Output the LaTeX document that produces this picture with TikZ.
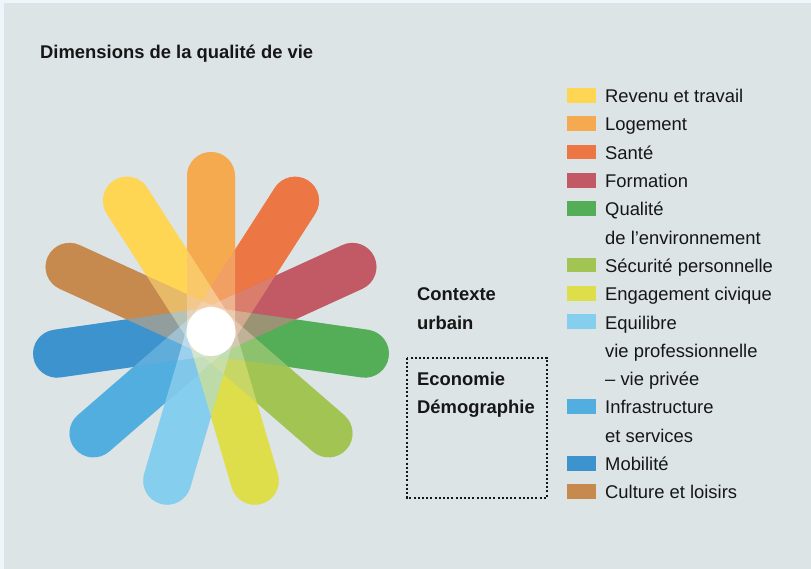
\documentclass[tikz,border=0pt]{standalone}
\usepackage{fontspec}
\setmainfont{Liberation Sans}
\usepackage{tikz}
\usetikzlibrary{positioning}

\definecolor{revenu}{HTML}{FED654}
\definecolor{logement}{HTML}{F5AA50}
\definecolor{sante}{HTML}{EC7644}
\definecolor{formation}{HTML}{C15A65}
\definecolor{qualite}{HTML}{53AE57}
\definecolor{securite}{HTML}{A2C453}
\definecolor{engagement}{HTML}{DEDE4A}
\definecolor{equilibre}{HTML}{86CEEE}
\definecolor{infra}{HTML}{52AEDF}
\definecolor{mobilite}{HTML}{3C93CD}
\definecolor{culture}{HTML}{C78A4E}
\definecolor{panelgray}{HTML}{DCE4E6}
\definecolor{outerblue}{HTML}{EEF6FB}
\definecolor{inkblack}{HTML}{161616}

% one petal, drawn along the x axis from the centre
\newcommand{\petalpath}{(0,-24) -- (155.5,-24) arc[start angle=-90, end angle=90, radius=24] -- (0,24) arc[start angle=90, end angle=270, radius=24] -- cycle}

\tikzset{
  petal/.style={shift={(211,331.5)}, rotate={90-(#1)*360/11}},
  legkey/.style={minimum width=29pt, minimum height=14.7pt, inner sep=0pt},
  legtxt/.style={anchor=base west, inner sep=0pt, text=inkblack, font=\fontsize{18.4}{22}\selectfont},
  boldtxt/.style={legtxt, font=\fontsize{18.4}{22}\selectfont\bfseries},
  dotbox/.style={line width=2pt, dash pattern=on 2pt off 2.2pt, inkblack}
}

\begin{document}
\begin{tikzpicture}[x=1pt, y=-1pt]

\useasboundingbox (0,0) rectangle (811,569);
\fill[outerblue] (0,0) rectangle (811,569);
\fill[panelgray] (3.5,3.5) rectangle (811,569);  % grey panel

\node[boldtxt] (title) at (40,59) {Dimensions de la qualité de vie};

% flower: opaque pass, then a half transparent pass in reverse order
\foreach \c [count=\i from 0] in {logement,sante,formation,qualite,securite,engagement,equilibre,infra,mobilite,culture,revenu}
    \fill[\c, petal=\i] \petalpath;
\foreach \c [count=\i from 0] in {revenu,culture,mobilite,infra,equilibre,engagement,securite,qualite,formation,sante,logement}
    \fill[\c, opacity=0.5, petal=10-\i] \petalpath;

% overlaps a little lighter
\foreach \i in {0,...,10} {
  \begin{scope}
    \clip[petal=\i] \petalpath;
    \foreach \k in {1,2}
        \fill[white, opacity=0.14, petal=\i+\k] \petalpath;
  \end{scope}
}
\fill[white] (211,331.5) circle (24.5);

% context texts
\node[boldtxt] (ctx1) at (417,301) {Contexte};
\node[boldtxt] (ctx2) at (417,329.3) {urbain};
\draw[dotbox] (407,357.5) rectangle (546.5,498);
\node[boldtxt] (eco1) at (417,385.3) {Economie};
\node[boldtxt] (eco2) at (417,413.5) {Démographie};

% legend
\foreach \r/\c [count=\n] in {0/revenu,1/logement,2/sante,3/formation,4/qualite,6/securite,7/engagement,8/equilibre,11/infra,13/mobilite,14/culture}
    \node[legkey, fill=\c] (key\n) at (581.5,{95.3+\r*28.3}) {};
\foreach \r/\t [count=\n] in {0/Revenu et travail,1/Logement,2/Santé,3/Formation,4/Qualité,5/de l’environnement,6/Sécurité personnelle,7/Engagement civique,8/Equilibre,9/vie professionnelle,10/– vie privée,11/Infrastructure,12/et services,13/Mobilité,14/Culture et loisirs}
    \node[legtxt] (lab\n) at (605,{102.6+\r*28.3}) {\t};

\end{tikzpicture}
\end{document}
